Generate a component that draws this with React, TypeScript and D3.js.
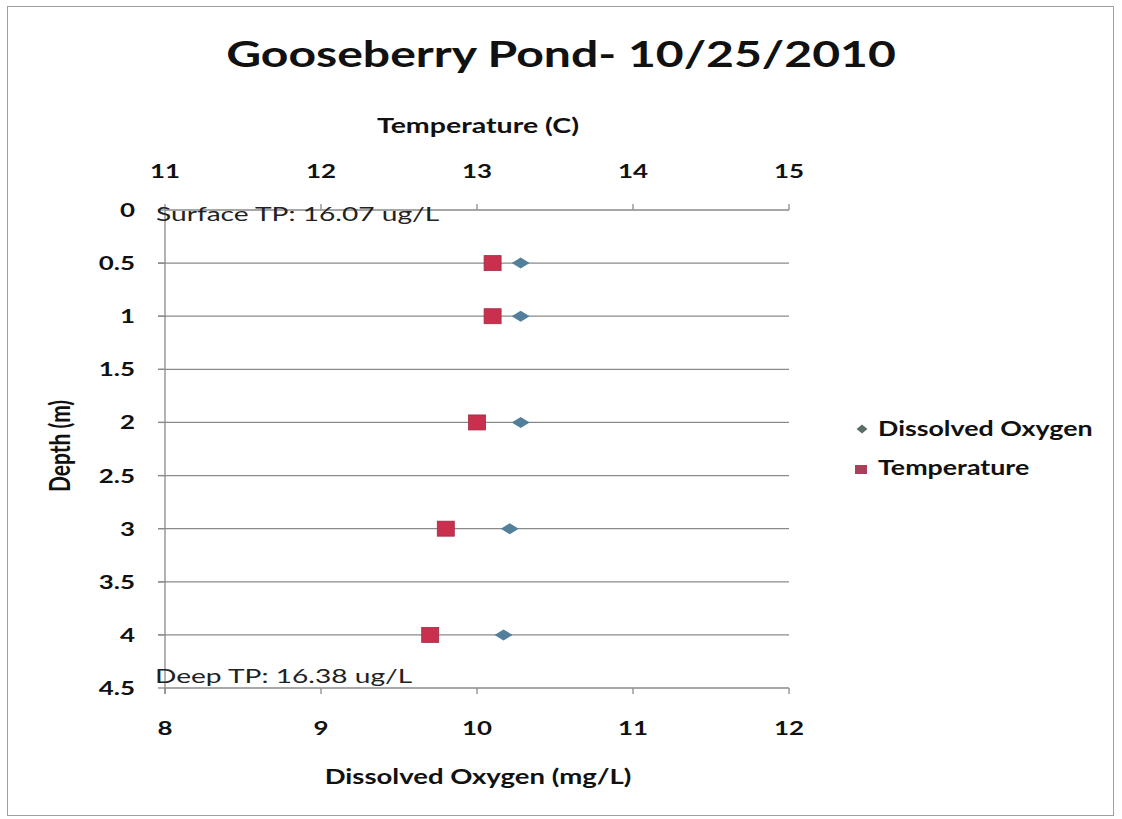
import React from "react";
import * as d3 from "d3";

const depths = [0.5, 1, 2, 3, 4];
const dissolvedOxygen = [10.28, 10.28, 10.28, 10.21, 10.17];
const temperature = [13.1, 13.1, 13.0, 12.8, 12.7];
const depthTicks = [0, 0.5, 1, 1.5, 2, 2.5, 3, 3.5, 4, 4.5];
const doTicks = [8, 9, 10, 11, 12];
const tempTicks = [11, 12, 13, 14, 15];
const seriesNames = ["Dissolved Oxygen", "Temperature"];
const title = "Gooseberry Pond- 10/25/2010";
const annotations = ["Surface TP: 16.07 ug/L", "Deep TP: 16.38 ug/L"];

const W = 1122;
const H = 819;
const L = 165, R = 789, T = 210, B = 688;
const DO_COLOR = "#52809a";
const TEMP_COLOR = "#c8304e";
const AXIS = "#8a8a8a";
const FONT = "Lato, 'Open Sans', sans-serif";

type STProps = {
  x: number; y: number; sx?: number; size: number; weight?: number;
  anchor?: "start" | "middle" | "end"; rotate?: number; fill?: string; children: React.ReactNode;
};
function SText({ x, y, sx = 1.35, size, weight = 700, anchor = "start", rotate = 0, fill = "#111", children }: STProps) {
  return (
    <g transform={`translate(${x},${y}) scale(${sx},1) rotate(${rotate})`}>
      <text x={0} y={0} textAnchor={anchor} fontSize={size} fontWeight={weight} fill={fill}>{children}</text>
    </g>
  );
}

export default function App() {
  const x = d3.scaleLinear().domain([8, 12]).range([L, R]);
  const xTop = d3.scaleLinear().domain([11, 15]).range([L, R]);
  const y = d3.scaleLinear().domain([0, 4.5]).range([T, B]);
  const diamondPath = (w: number, h: number) => `M0,${-h}L${w},0L0,${h}L${-w},0Z`;

  return (
    <svg width={W} height={H} style={{ position: "absolute", left: 0, top: 0 }} fontFamily={FONT}>
      <rect x={0} y={0} width={W} height={H} fill="#fff" />
      <rect x={7.5} y={6.5} width={1106} height={809} fill="#fff" stroke="#a0a0a0" strokeWidth={1} />
      <SText x={561} y={67} size={37} sx={1.3} anchor="middle">{title}</SText>
      <SText x={478} y={133} size={21} sx={1.36} anchor="middle">Temperature (C)</SText>
      <SText x={478} y={784} size={21} sx={1.31} anchor="middle">Dissolved Oxygen (mg/L)</SText>
      <SText x={70} y={446} size={21} sx={1.35} anchor="middle" rotate={-90}>Depth (m)</SText>

      {/* gridlines */}
      {depthTicks.filter(d => d > 0 && d < 4.5).map(d => (
        <line key={"g" + d} x1={L - 7} x2={R} y1={y(d)} y2={y(d)} stroke={AXIS} strokeWidth={1.3} />
      ))}
      {/* axes */}
      <line x1={L} x2={R} y1={T} y2={T} stroke={AXIS} strokeWidth={1.3} />
      <line x1={L} x2={R} y1={B} y2={B} stroke={AXIS} strokeWidth={1.3} />
      <line x1={L} x2={L} y1={T} y2={B + 6} stroke={AXIS} strokeWidth={1.3} />
      {tempTicks.map(t => (
        <g key={"tt" + t}>
          <line x1={xTop(t)} x2={xTop(t)} y1={T - 6} y2={T} stroke={AXIS} strokeWidth={1.3} />
          <SText x={xTop(t)} y={178} size={18.5} sx={1.4} anchor="middle">{t}</SText>
        </g>
      ))}
      {doTicks.map(t => (
        <g key={"dt" + t}>
          <line x1={x(t)} x2={x(t)} y1={B} y2={B + 6} stroke={AXIS} strokeWidth={1.3} />
          <SText x={x(t)} y={735} size={18.5} sx={1.4} anchor="middle">{t}</SText>
        </g>
      ))}
      {depthTicks.map(d => (
        <g key={"yt" + d}>
          <line x1={L - 7} x2={L} y1={y(d)} y2={y(d)} stroke={AXIS} strokeWidth={1.3} />
          <SText x={135} y={y(d) + 7} size={18.5} sx={1.4} anchor="end">{d}</SText>
        </g>
      ))}

      {/* annotations */}
      <SText x={156} y={221} size={18.5} sx={1.52} weight={400} fill="#222">{annotations[0]}</SText>
      <SText x={155} y={683} size={18.5} sx={1.52} weight={400} fill="#222">{annotations[1]}</SText>

      {/* series */}
      {depths.map((d, i) => (
        <path key={"do" + i} d={diamondPath(9, 5.5)} transform={`translate(${x(dissolvedOxygen[i])},${y(d)})`} fill={DO_COLOR} />
      ))}
      {depths.map((d, i) => (
        <rect key={"t" + i} x={xTop(temperature[i]) - 8.5} y={y(d) - 7.5} width={17} height={15} fill={TEMP_COLOR} stroke="#a02a44" strokeWidth={0.8} />
      ))}

      {/* legend */}
      <path d={diamondPath(5.5, 4.5)} transform="translate(862,429)" fill="#5a6e68" />
      <SText x={878} y={436} size={20} sx={1.34}>{seriesNames[0]}</SText>
      <rect x={855} y={465} width={12} height={9} fill="#a8405c" />
      <SText x={878} y={475} size={20} sx={1.34}>{seriesNames[1]}</SText>
    </svg>
  );
}
